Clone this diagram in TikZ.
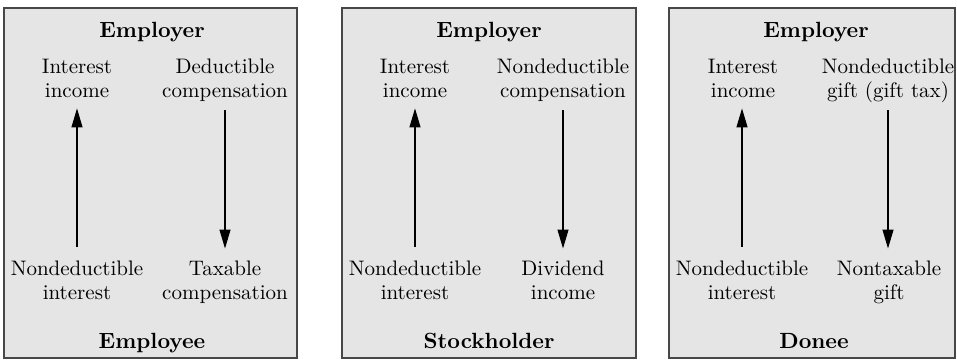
\documentclass[tikz,border=0pt]{standalone}
\usepackage{fontspec}
\setmainfont{lmroman10}[Extension=.otf, UprightFont=*-regular, BoldFont=*-bold, ItalicFont=*-italic]
\usetikzlibrary{arrows.meta}
\newcommand\twol[2]{\strut #1\\\strut #2}
\tikzset{
  panel/.style={draw=black!72, line width=1.4pt, fill=black!10},
  lbl/.style={font=\fontsize{21}{24}\selectfont, align=center, inner sep=0pt, anchor=center},
  ttl/.style={font=\fontsize{22}{24}\selectfont\bfseries, inner sep=0pt, anchor=base},
  flow/.style={line width=1.1pt, -{Triangle[length=19pt,width=11pt]}}
}
\begin{document}
\begin{tikzpicture}[x=1pt,y=-1pt]
\useasboundingbox (0,0) rectangle (957,360);
% panels
\draw[panel] (4,8) rectangle (297,358);
\draw[panel] (342,8) rectangle (636,358);
\draw[panel] (669,8) rectangle (955,358);
% panel 1
\node[ttl] (t1) at (152,37) {Employer};
\node[ttl] (b1) at (152,348) {Employee};
\node[lbl] (a1) at (77,80.2) {\twol{Interest}{income}};
\node[lbl] (c1) at (225,80.2) {\twol{Deductible}{compensation}};
\node[lbl] (d1) at (77,282.7) {\twol{Nondeductible}{interest}};
\node[lbl] (e1) at (225,282.7) {\twol{Taxable}{compensation}};
\draw[flow, shorten <=12pt, shorten >=4pt] (d1.north) -- (d1.north |- a1.south);
\draw[flow, shorten <=6pt, shorten >=10pt] (c1.south) -- (c1.south |- e1.north);
% panel 2
\node[ttl] (t2) at (489,37) {Employer};
\node[ttl] (b2) at (489,348) {Stockholder};
\node[lbl] (a2) at (415,80.2) {\twol{Interest}{income}};
\node[lbl] (c2) at (563,80.2) {\twol{Nondeductible}{compensation}};
\node[lbl] (d2) at (415,282.7) {\twol{Nondeductible}{interest}};
\node[lbl] (e2) at (563,282.7) {\twol{Dividend}{income}};
\draw[flow, shorten <=12pt, shorten >=4pt] (d2.north) -- (d2.north |- a2.south);
\draw[flow, shorten <=6pt, shorten >=10pt] (c2.south) -- (c2.south |- e2.north);
% panel 3
\node[ttl] (t3) at (816,37) {Employer};
\node[ttl] (b3) at (814,348) {Donee};
\node[lbl] (a3) at (743,80.2) {\twol{Interest}{income}};
\node[lbl] (c3) at (888,80.2) {\twol{Nondeductible}{gift (gift tax)}};
\node[lbl] (d3) at (742,282.7) {\twol{Nondeductible}{interest}};
\node[lbl] (e3) at (889,282.7) {\twol{Nontaxable}{gift}};
\draw[flow, shorten <=12pt, shorten >=4pt] (d3.north) -- (d3.north |- a3.south);
\draw[flow, shorten <=6pt, shorten >=10pt] (c3.south) -- (c3.south |- e3.north);
\end{tikzpicture}
\end{document}
